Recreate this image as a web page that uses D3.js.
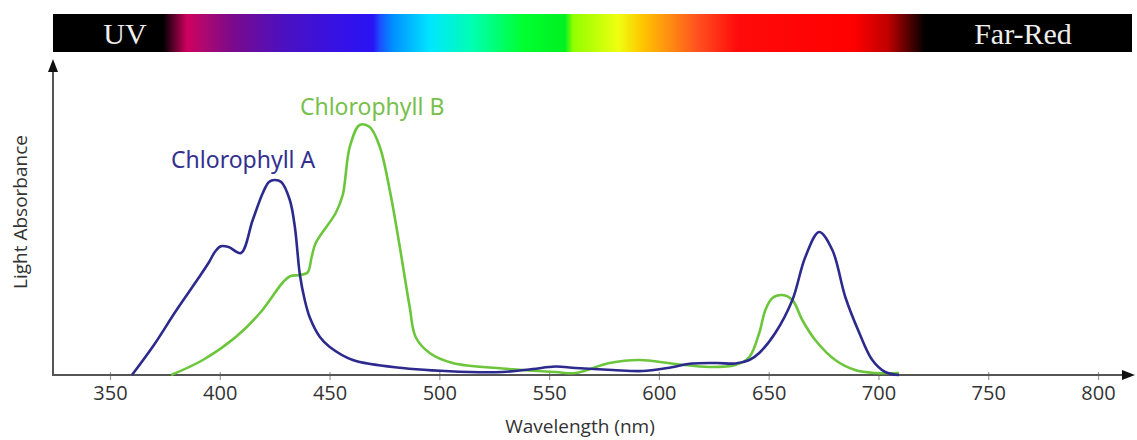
<!DOCTYPE html>
<html>
<head>
<meta charset="utf-8">
<script src="https://cdn.jsdelivr.net/npm/d3@7"></script>
<style>
  html, body { margin: 0; padding: 0; background: #fff; }
  svg { display: block; }
</style>
</head>
<body>
<svg id="chart" width="1137" height="440"></svg>
<script>
// ---------- data ----------
const xTicks = [350, 400, 450, 500, 550, 600, 650, 700, 750, 800];
const seriesNames = ["Chlorophyll A", "Chlorophyll B"];
// wavelength (nm) samples
const chlAWavelength = [360, 370, 380, 390, 395, 398, 400.5, 404, 409.6, 415, 419.6, 422.4, 425, 428, 431.9, 434.2, 436.5, 438.7, 441, 445.6, 450.1, 460.6, 483.3, 513.8, 528.8, 542.5, 552.9, 562, 578.9, 592.5, 603.9, 615.2, 626.6, 634.8, 641.2, 645.7, 653, 660.8, 666.7, 673, 679, 684.9, 691.3, 697.2, 703.1, 709.4];
const chlAAbsorb    = [0, 0.12, 0.256, 0.384, 0.45, 0.495, 0.515, 0.512, 0.488, 0.62, 0.728, 0.772, 0.78, 0.772, 0.70, 0.592, 0.40, 0.30, 0.23, 0.152, 0.112, 0.06, 0.028, 0.012, 0.012, 0.024, 0.034, 0.028, 0.02, 0.016, 0.028, 0.046, 0.048, 0.046, 0.06, 0.088, 0.168, 0.30, 0.472, 0.572, 0.50, 0.312, 0.168, 0.06, 0.012, 0];
const chlBWavelength = [377.8, 392.3, 407.3, 418.3, 428.7, 432, 436.5, 440, 441.8, 443.7, 452.8, 456, 459.2, 463.7, 468.3, 472.9, 477.4, 482, 486.5, 489.2, 495.6, 506.1, 528.8, 552.9, 562, 577.5, 591.1, 607.5, 623, 634.8, 641.2, 645.7, 648.5, 651.7, 656.2, 660.8, 665.3, 671.2, 680.3, 689.4, 698.5, 709.4];
const chlBAbsorb    = [0, 0.06, 0.152, 0.248, 0.37, 0.395, 0.40, 0.41, 0.47, 0.528, 0.648, 0.72, 0.912, 1.0, 0.992, 0.912, 0.74, 0.512, 0.272, 0.152, 0.088, 0.048, 0.026, 0.012, 0.008, 0.048, 0.06, 0.044, 0.032, 0.04, 0.072, 0.168, 0.26, 0.308, 0.32, 0.30, 0.22, 0.14, 0.06, 0.02, 0.008, 0.008];
const spectrumEndLabels = ["UV", "Far-Red"];
const axisTitles = ["Wavelength (nm)", "Light Absorbance"];

// ---------- layout ----------
const svg = d3.select("#chart");
const baseY = 375, axisLeft = 53, axisRight = 1135, axisTop = 59;

const x = d3.scaleLinear().domain([350, 800]).range([110, 1098]);
const y = d3.scaleLinear().domain([0, 1]).range([baseY, 125]);

// ---------- spectrum bar ----------
const barX0 = 53, barX1 = 1132, barY = 14, barH = 38;
const stops = [
  [0, "#000"], [110, "#000"], [134, "#cf0060"], [150, "#b0086e"], [180, "#7a0a8c"],
  [230, "#4c10c0"], [290, "#3412e8"], [320, "#2a14f4"], [327, "#1c50ff"], [340, "#0090ff"],
  [377, "#00e6ff"], [420, "#00ffb0"], [470, "#00ff30"], [512, "#00f020"], [520, "#90ff00"],
  [565, "#eeff10"], [590, "#ffc400"], [615, "#ff9010"], [645, "#ff5020"], [685, "#ff0a0a"],
  [800, "#ff0000"], [835, "#c00000"], [872, "#000"], [1079, "#000"]
];
const defs = svg.append("defs");
const grad = defs.append("linearGradient").attr("id", "spec")
  .attr("x1", "0%").attr("x2", "100%").attr("y1", "0%").attr("y2", "0%");
stops.forEach(s => grad.append("stop")
  .attr("offset", (s[0] / (barX1 - barX0) * 100) + "%").attr("stop-color", s[1]));
svg.append("rect").attr("x", barX0).attr("y", barY).attr("width", barX1 - barX0).attr("height", barH)
  .attr("fill", "url(#spec)");
svg.append("text").attr("x", 125).attr("y", 44).attr("text-anchor", "middle")
  .attr("font-family", "Liberation Serif, DejaVu Serif, serif").attr("font-size", 30)
  .attr("fill", "#eee").text(spectrumEndLabels[0]);
svg.append("text").attr("x", 1023).attr("y", 44).attr("text-anchor", "middle")
  .attr("font-family", "Liberation Serif, DejaVu Serif, serif").attr("font-size", 30)
  .attr("fill", "#eee").text(spectrumEndLabels[1]);

// ---------- axes ----------
const xAxis = d3.axisBottom(x).tickValues(xTicks).tickSize(5).tickPadding(6).tickFormat(d3.format("d"));
const gx = svg.append("g").attr("transform", `translate(0,${baseY})`).call(xAxis);
gx.select(".domain").remove();
gx.selectAll(".tick line").attr("stroke", "#999").attr("stroke-width", 1.2).attr("y1", -3);
gx.selectAll(".tick text").attr("font-family", "Open Sans, sans-serif").attr("font-size", 20).attr("fill", "#333");

svg.append("line").attr("x1", axisLeft).attr("x2", axisRight - 8).attr("y1", baseY).attr("y2", baseY)
  .attr("stroke", "#555").attr("stroke-width", 2);
svg.append("path").attr("d", `M${axisRight},${baseY} L${axisRight - 13},${baseY - 5} L${axisRight - 13},${baseY + 5} Z`).attr("fill", "#111");
svg.append("line").attr("x1", axisLeft).attr("x2", axisLeft).attr("y1", baseY + 1).attr("y2", axisTop + 8)
  .attr("stroke", "#555").attr("stroke-width", 2);
svg.append("path").attr("d", `M${axisLeft},${axisTop} L${axisLeft - 5},${axisTop + 13} L${axisLeft + 5},${axisTop + 13} Z`).attr("fill", "#111");

svg.append("text").attr("x", 580).attr("y", 433).attr("text-anchor", "middle")
  .attr("font-family", "Open Sans, sans-serif").attr("font-size", 19).attr("fill", "#333").text(axisTitles[0]);
svg.append("text").attr("transform", "translate(27,212) rotate(-90)").attr("text-anchor", "middle")
  .attr("font-family", "Open Sans, sans-serif").attr("font-size", 19).attr("fill", "#333").text(axisTitles[1]);

// ---------- curves ----------
const line = d3.line().x(d => x(d[0])).y(d => y(d[1])).curve(d3.curveCatmullRom.alpha(0.5));
const series = [
  { name: seriesNames[1], color: "#6cc63c", textColor: "#78c04c", pts: d3.zip(chlBWavelength, chlBAbsorb), label: [436.5, 1.04] },
  { name: seriesNames[0], color: "#2d2a8e", textColor: "#33308f", pts: d3.zip(chlAWavelength, chlAAbsorb), label: [377.8, 0.828] }
];
series.forEach(s => {
  svg.append("path").datum(s.pts).attr("d", line).attr("fill", "none")
    .attr("stroke", s.color).attr("stroke-width", 2.6).attr("stroke-linejoin", "round");
  svg.append("text").attr("x", x(s.label[0])).attr("y", y(s.label[1]))
    .attr("font-family", "Noto Sans, sans-serif").attr("font-size", 23)
    .attr("fill", s.textColor).text(s.name);
});
</script>
</body>
</html>
